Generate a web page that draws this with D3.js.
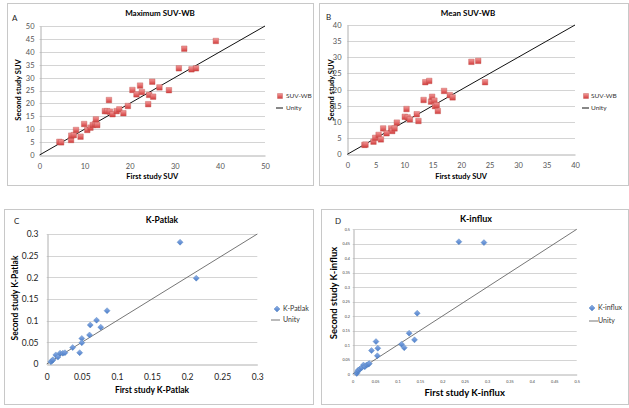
<!DOCTYPE html>
<html><head><meta charset="utf-8">
<script src="https://cdn.jsdelivr.net/npm/d3@7"></script>
<style>body{margin:0;background:#fff}svg{display:block}text{font-family:Lato,"Open Sans",sans-serif}</style>
</head><body><svg id="c" width="629" height="408"></svg>
<script>
// ---- data ----
const maxSUV = [[4.4,5.1],[4.8,4.9],[7.0,5.8],[7.05,7.5],[7.6,7.7],[8.1,9.7],[9.1,7.1],[9.9,12],[10.6,9.7],[11.3,10.6],[11.8,11.6],[12.3,12],[12.5,13.8],[12.8,11.6],[14.5,17],[15.0,17],[15.4,21.3],[15.6,16.8],[16.2,15.8],[17.1,17],[17.7,17.7],[18.6,16.2],[19.6,19],[20.6,25.2],[21.5,23.5],[22.3,26.9],[22.7,24.4],[24.1,19.7],[24.3,23.3],[25.0,28.4],[25.2,22.6],[26.6,26.2],[28.7,25.1],[30.9,33.6],[32.1,41.2],[33.7,33.2],[34.7,33.6],[39.1,44.2]];
const meanSUV = [[3.0,2.9],[3.2,3.0],[4.6,3.9],[4.9,5.1],[5.5,6.0],[5.9,4.6],[6.3,8.0],[6.9,6.5],[7.7,8.0],[7.9,7.2],[8.3,8.0],[8.7,9.8],[10.1,11.6],[10.4,14.0],[10.6,11.4],[11.0,10.8],[12.2,12.4],[12.5,10.3],[13.4,16.8],[13.7,22.3],[14.4,22.7],[14.7,16.3],[14.9,17.8],[15.3,16.6],[15.4,14.9],[15.9,13.4],[15.7,15.2],[17.0,19.6],[18.0,18.3],[18.5,17.6],[21.8,28.6],[23.0,28.9],[24.2,22.3]];
const kPatlak = [[0.006,0.005],[0.008,0.008],[0.009,0.01],[0.013,0.021],[0.016,0.016],[0.019,0.025],[0.023,0.025],[0.026,0.026],[0.037,0.038],[0.047,0.026],[0.05,0.059],[0.05,0.049],[0.061,0.067],[0.062,0.09],[0.071,0.101],[0.077,0.085],[0.086,0.123],[0.19,0.281],[0.213,0.198]];
const kInflux = [[0.009,0.002],[0.011,0.008],[0.012,0.013],[0.016,0.017],[0.02,0.022],[0.024,0.031],[0.027,0.025],[0.031,0.031],[0.035,0.034],[0.037,0.036],[0.042,0.081],[0.052,0.112],[0.056,0.089],[0.055,0.063],[0.109,0.103],[0.115,0.091],[0.126,0.141],[0.138,0.118],[0.144,0.21],[0.237,0.457],[0.293,0.454]];
const ticksA_x = [0,10,20,30,40,50], ticksA_y = [0,5,10,15,20,25,30,35,40,45,50];
const ticksB = [0,5,10,15,20,25,30,35,40];
const ticksC = [0,0.05,0.1,0.15,0.2,0.25,0.3];
const ticksD = [0,0.05,0.1,0.15,0.2,0.25,0.3,0.35,0.4,0.45,0.5];

const svg = d3.select("#c");
const defs = svg.append("defs");
const gr = defs.append("linearGradient").attr("id","gR").attr("x1",0).attr("y1",0).attr("x2",0).attr("y2",1);
gr.append("stop").attr("offset","0").attr("stop-color","#f29a9a");
gr.append("stop").attr("offset","1").attr("stop-color","#d23c3c");
const gb = defs.append("linearGradient").attr("id","gB").attr("x1",0).attr("y1",0).attr("x2",0).attr("y2",1);
gb.append("stop").attr("offset","0").attr("stop-color","#8fb0e6");
gb.append("stop").attr("offset","1").attr("stop-color","#4a7cc9");

function panel(o){
  const g = svg.append("g");
  g.append("rect").attr("x",o.box[0]+0.5).attr("y",o.box[1]+0.5).attr("width",o.box[2]-o.box[0]).attr("height",o.box[3]-o.box[1])
    .attr("fill","#fff").attr("stroke","#c8c8c8");
  const x = d3.scaleLinear().domain([0,o.max]).range([o.px0,o.px1]);
  const y = d3.scaleLinear().domain([0,o.max]).range([o.py0,o.py1]);
  // gridlines
  g.selectAll(".gl").data(o.yt.slice(1)).enter().append("line")
    .attr("x1",o.px0).attr("x2",o.px1).attr("y1",d=>Math.round(y(d))+0.5).attr("y2",d=>Math.round(y(d))+0.5)
    .attr("stroke","#d4d4d4").attr("stroke-width",1);
  const fmt = d=>String(+d.toFixed(3));
  const ax = g.append("g").attr("transform",`translate(0,${Math.round(o.py0)+0.5})`)
    .call(d3.axisBottom(x).tickValues(o.xt).tickSize(0).tickSizeOuter(0).tickFormat(fmt));
  const ay = g.append("g").attr("transform",`translate(${Math.round(o.px0)+0.5},0)`)
    .call(d3.axisLeft(y).tickValues(o.yt).tickSize(0).tickSizeOuter(0).tickFormat(fmt));
  [ax,ay].forEach(a=>{
    a.select(".domain").attr("stroke","#b0b0b0");
    a.selectAll(".tick text").attr("fill",o.tickColor).attr("font-size",o.tickSize).style("font-family","Lato,sans-serif");
  });
  ax.selectAll(".tick text").attr("y",o.xty).attr("dy","0");
  ay.selectAll(".tick text").attr("x",-o.ydx);
  // unity
  g.append("line").attr("x1",x(0)).attr("y1",y(0)).attr("x2",x(o.max)).attr("y2",y(o.max))
    .attr("stroke",o.lineColor).attr("stroke-width",o.lineW);
  // points
  const sz = o.marker==="square"?5.5:6;
  g.selectAll(".pt").data(o.data).enter().append("path")
    .attr("transform",d=>`translate(${x(d[0])},${y(d[1])})`)
    .attr("d",o.marker==="square"?`M${-sz/2},${-sz/2}h${sz}v${sz}h${-sz}Z`:`M0,${-sz/2}L${sz/2},0L0,${sz/2}L${-sz/2},0Z`)
    .attr("fill",o.marker==="square"?"url(#gR)":"url(#gB)")
    .attr("stroke",o.marker==="square"?"#c0504d":"#4f81bd").attr("stroke-width",0.4);
  // titles
  g.append("text").attr("x",o.titleX).attr("y",o.titleY).attr("text-anchor","middle").attr("font-weight","bold")
    .attr("font-size",o.titleSize).attr("fill","#000").text(o.title);
  g.append("text").attr("x",o.letter[0]).attr("y",o.letter[1]).attr("font-size",o.letterSize).attr("fill","#222").text(o.letterText);
  g.append("text").attr("x",(o.px0+o.px1)/2).attr("y",o.xlabY).attr("text-anchor","middle").attr("font-weight","bold")
    .attr("font-size",o.labSize).attr("fill","#000").text(o.xlab);
  g.append("text").attr("transform",`translate(${o.ylabX},${o.ylabCy}) rotate(-90)`).attr("text-anchor","middle").attr("font-weight","bold")
    .attr("font-size",o.labSize).attr("fill","#000").text(o.ylab);
  // legend
  const L = o.legend;
  g.append("path").attr("transform",`translate(${L.mx},${L.my})`)
    .attr("d",o.marker==="square"?"M-2.5,-2.5h5v5h-5Z":"M0,-3L3,0L0,3L-3,0Z")
    .attr("fill",o.marker==="square"?"url(#gR)":"url(#gB)").attr("stroke",o.marker==="square"?"#c0504d":"#4f81bd").attr("stroke-width",0.4);
  g.append("text").attr("x",L.tx).attr("y",L.my).attr("dy","0.35em").attr("font-size",L.fs).attr("fill","#333").text(o.series);
  g.append("line").attr("x1",L.lx0).attr("x2",L.lx1).attr("y1",L.ly).attr("y2",L.ly).attr("stroke",o.lineColor).attr("stroke-width",o.lineW);
  g.append("text").attr("x",L.tx).attr("y",L.ly).attr("dy","0.35em").attr("font-size",L.fs).attr("fill","#333").text("Unity");
}

panel({box:[7,3,313,185],max:50,px0:39.5,px1:265,py0:155,py1:26,xt:ticksA_x,yt:ticksA_y,data:maxSUV,marker:"square",
  tickColor:"#555",tickSize:7.5,xty:13,ydx:6,lineColor:"#111",lineW:1,
  title:"Maximum SUV-WB",titleX:160,titleY:16,titleSize:8,letter:[12,21],letterText:"A",letterSize:8,
  xlab:"First study SUV",xlabY:179,ylab:"Second study SUV",ylabX:21,ylabCy:90,labSize:7.5,series:"SUV-WB",
  legend:{mx:280,my:96,tx:286,lx0:276,lx1:283,ly:108,fs:6.5}});
panel({box:[319,3,628,185],max:40,px0:347.3,px1:575,py0:154.3,py1:25,xt:ticksB,yt:ticksB,data:meanSUV,marker:"square",
  tickColor:"#555",tickSize:7.5,xty:13,ydx:6,lineColor:"#111",lineW:1,
  title:"Mean SUV-WB",titleX:468,titleY:16,titleSize:8,letter:[326,20],letterText:"B",letterSize:8,
  xlab:"First study SUV",xlabY:179,ylab:"Second study SUV",ylabX:334,ylabCy:90,labSize:7.5,series:"SUV-WB",
  legend:{mx:586,my:96,tx:591,lx0:582,lx1:589,ly:108,fs:6.5}});
panel({box:[4,209,313,404],max:0.3,px0:46.7,px1:257.3,py0:364,py1:234,xt:ticksC,yt:ticksC,data:kPatlak,marker:"diamond",
  tickColor:"#222",tickSize:8.5,xty:15,ydx:9,lineColor:"#666",lineW:0.9,
  title:"K-Patlak",titleX:162,titleY:223,titleSize:8.5,letter:[14,224],letterText:"C",letterSize:8,
  xlab:"First study K-Patlak",xlabY:393,ylab:"Second study K-Patlak",ylabX:18,ylabCy:298,labSize:8.5,series:"K-Patlak",
  legend:{mx:277,my:309,tx:283,lx0:271,lx1:280,ly:320,fs:7}});
panel({box:[321,209,628,404],max:0.5,px0:352.7,px1:576.7,py0:374,py1:229.3,xt:ticksD,yt:ticksD,data:kInflux,marker:"diamond",
  tickColor:"#444",tickSize:3.8,xty:8,ydx:3.5,lineColor:"#666",lineW:0.9,
  title:"K-influx",titleX:476,titleY:222,titleSize:9,letter:[335,224],letterText:"D",letterSize:8,
  xlab:"First study K-influx",xlabY:396,ylab:"Second study K-influx",ylabX:337,ylabCy:293,labSize:9.5,series:"K-influx",
  legend:{mx:592,my:308,tx:598,lx0:589,lx1:598,ly:321,fs:7}});
</script></body></html>
